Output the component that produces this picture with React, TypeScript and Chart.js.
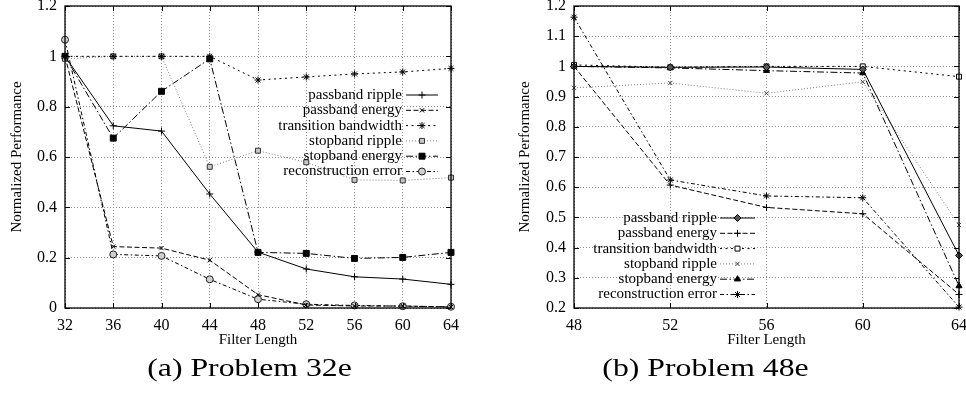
import React, { useEffect, useRef } from "react";
import { Chart, registerables } from "chart.js";
import { drawPoint } from "chart.js/helpers";

Chart.register(...registerables);

const SERIF = '"Liberation Serif", "Times New Roman", Times, serif';

const SERIES_NAMES = [
  "passband ripple",
  "passband energy",
  "transition bandwidth",
  "stopband ripple",
  "stopband energy",
  "reconstruction error",
];

// (a) Problem 32e
const A_LENGTHS = [32, 36, 40, 44, 48, 52, 56, 60, 64];
const A_PASSBAND_RIPPLE = [1.0, 0.724, 0.703, 0.453, 0.222, 0.155, 0.124, 0.115, 0.094];
const A_PASSBAND_ENERGY = [1.0, 0.244, 0.238, 0.19, 0.053, 0.012, 0.008, 0.008, 0.004];
const A_TRANSITION_BW = [1.0, 1.0, 1.0, 1.0, 0.906, 0.918, 0.93, 0.938, 0.952];
const A_STOPBAND_RIPPLE = [0.99, 1.0, 1.0, 0.561, 0.625, 0.579, 0.509, 0.507, 0.518];
const A_STOPBAND_ENERGY = [1.0, 0.675, 0.861, 0.99, 0.221, 0.217, 0.197, 0.201, 0.221];
const A_RECON_ERROR = [1.066, 0.213, 0.207, 0.114, 0.035, 0.015, 0.01, 0.007, 0.005];
const A_X_TICKS = [32, 36, 40, 44, 48, 52, 56, 60, 64];
const A_Y_TICKS = [0, 0.2, 0.4, 0.6, 0.8, 1, 1.2];

// (b) Problem 48e
const B_LENGTHS = [48, 52, 56, 60, 64];
const B_PASSBAND_RIPPLE = [1.0, 0.997, 0.998, 0.99, 0.374];
const B_PASSBAND_ENERGY = [1.0, 0.607, 0.533, 0.512, 0.245];
const B_TRANSITION_BW = [1.005, 0.997, 1.0, 1.0, 0.966];
const B_STOPBAND_RIPPLE = [0.929, 0.945, 0.911, 0.949, 0.475];
const B_STOPBAND_ENERGY = [1.0, 0.995, 0.986, 0.978, 0.273];
const B_RECON_ERROR = [1.163, 0.624, 0.571, 0.565, 0.203];
const B_X_TICKS = [48, 52, 56, 60, 64];
const B_Y_TICKS = [0.2, 0.3, 0.4, 0.5, 0.6, 0.7, 0.8, 0.9, 1, 1.1, 1.2];

const X_TITLE = "Filter Length";
const Y_TITLE = "Normalized Performance";

type Style = { color: string; dash: number[]; point: string; radius: number; fill: string; edge: string };

const DASHES = [[], [5, 2.5], [2, 3.5], [1, 2], [7, 2.5, 1.5, 2.5], [4, 2.5, 1.5, 2.5]];

const A_STYLES: Style[] = [
  { color: "#000", dash: DASHES[0], point: "cross", radius: 3.5, fill: "#000", edge: "#000" },
  { color: "#000", dash: DASHES[1], point: "crossRot", radius: 3, fill: "#000", edge: "#000" },
  { color: "#000", dash: DASHES[2], point: "star", radius: 3.5, fill: "#000", edge: "#000" },
  { color: "#808080", dash: DASHES[3], point: "rect", radius: 3.5, fill: "#c8c8c8", edge: "#333" },
  { color: "#000", dash: DASHES[4], point: "rect", radius: 4.2, fill: "#000", edge: "#000" },
  { color: "#000", dash: DASHES[5], point: "circle", radius: 3.5, fill: "#cfcfcf", edge: "#222" },
];

const B_STYLES: Style[] = [
  { color: "#000", dash: DASHES[0], point: "rectRot", radius: 3.5, fill: "#555", edge: "#000" },
  { color: "#000", dash: DASHES[1], point: "cross", radius: 3.5, fill: "#000", edge: "#000" },
  { color: "#000", dash: DASHES[2], point: "rect", radius: 3.5, fill: "#fff", edge: "#000" },
  { color: "#808080", dash: DASHES[3], point: "crossRot", radius: 3, fill: "#555", edge: "#444" },
  { color: "#000", dash: DASHES[4], point: "triangle", radius: 3.5, fill: "#000", edge: "#000" },
  { color: "#000", dash: DASHES[5], point: "star", radius: 3.5, fill: "#000", edge: "#000" },
];

interface PanelSpec {
  canvasLeft: number;
  canvasWidth: number;
  padLeft: number;
  padRight: number;
  yAxisWidth: number;
  lengths: number[];
  series: number[][];
  styles: Style[];
  xTicks: number[];
  yTicks: number[];
  caption: string;
  captionX: number;
  legend: { textRight: number; x1: number; x2: number; y0: number; dy: number };
}

const PANEL_A: PanelSpec = {
  canvasLeft: 0,
  canvasWidth: 490,
  padLeft: 0,
  padRight: 39,
  yAxisWidth: 65,
  lengths: A_LENGTHS,
  series: [A_PASSBAND_RIPPLE, A_PASSBAND_ENERGY, A_TRANSITION_BW, A_STOPBAND_RIPPLE, A_STOPBAND_ENERGY, A_RECON_ERROR],
  styles: A_STYLES,
  xTicks: A_X_TICKS,
  yTicks: A_Y_TICKS,
  caption: "(a) Problem 32e",
  captionX: 249.5,
  legend: { textRight: 402, x1: 406, x2: 438, y0: 95, dy: 15.3 },
};

const PANEL_B: PanelSpec = {
  canvasLeft: 490,
  canvasWidth: 476,
  padLeft: 18,
  padRight: 7,
  yAxisWidth: 66,
  lengths: B_LENGTHS,
  series: [B_PASSBAND_RIPPLE, B_PASSBAND_ENERGY, B_TRANSITION_BW, B_STOPBAND_RIPPLE, B_STOPBAND_ENERGY, B_RECON_ERROR],
  styles: B_STYLES,
  xTicks: B_X_TICKS,
  yTicks: B_Y_TICKS,
  caption: "(b) Problem 48e",
  captionX: 215.5,
  legend: { textRight: 227, x1: 230, x2: 265, y0: 218, dy: 15.3 },
};

const HEIGHT = 398;

function decorPlugin(spec: PanelSpec) {
  return {
    id: "gnuplotDecor",
    afterDatasetsDraw(chart: any) {
      const { ctx, chartArea: a, scales } = chart;
      ctx.save();
      ctx.strokeStyle = "#000";
      ctx.lineWidth = 1;
      ctx.setLineDash([]);
      const T = 5;
      ctx.beginPath();
      for (const v of spec.yTicks) {
        const y = Math.round(scales.y.getPixelForValue(v)) + 0.5;
        ctx.moveTo(a.left, y);
        ctx.lineTo(a.left + T, y);
        ctx.moveTo(a.right, y);
        ctx.lineTo(a.right - T, y);
      }
      for (const v of spec.xTicks) {
        const x = Math.round(scales.x.getPixelForValue(v)) + 0.5;
        ctx.moveTo(x, a.bottom);
        ctx.lineTo(x, a.bottom - T);
        ctx.moveTo(x, a.top);
        ctx.lineTo(x, a.top + T);
      }
      ctx.stroke();
      ctx.lineWidth = 1.3;
      ctx.strokeRect(a.left, a.top, a.right - a.left, a.bottom - a.top);
      ctx.restore();
    },
    afterDraw(chart: any) {
      const ctx = chart.ctx;
      const L = spec.legend;
      ctx.save();
      chart.data.datasets.forEach((ds: any, i: number) => {
        const y = L.y0 + i * L.dy;
        ctx.font = `15px ${SERIF}`;
        ctx.textAlign = "right";
        ctx.textBaseline = "middle";
        ctx.fillStyle = "#000";
        ctx.fillText(ds.label, L.textRight, y);
        ctx.strokeStyle = ds.borderColor;
        ctx.lineWidth = ds.borderWidth;
        ctx.setLineDash(ds.borderDash);
        ctx.beginPath();
        ctx.moveTo(L.x1, y);
        ctx.lineTo(L.x2, y);
        ctx.stroke();
        ctx.setLineDash([]);
        ctx.fillStyle = ds.pointBackgroundColor;
        ctx.strokeStyle = ds.pointBorderColor;
        ctx.lineWidth = 1;
        drawPoint(ctx, { pointStyle: ds.pointStyle, radius: ds.pointRadius, rotation: 0, borderWidth: 1 } as any, (L.x1 + L.x2) / 2, y);
      });
      ctx.font = `25px ${SERIF}`;
      ctx.textAlign = "center";
      ctx.textBaseline = "alphabetic";
      ctx.fillStyle = "#000";
      ctx.translate(spec.captionX, 376);
      ctx.scale(1.27, 1);
      ctx.fillText(spec.caption, 0, 0);
      ctx.restore();
    },
  };
}

const fmt = (v: number) => String(Number(Number(v).toFixed(2)));

function buildChart(canvas: HTMLCanvasElement, spec: PanelSpec) {
  const datasets = spec.series.map((vals, i) => {
    const s = spec.styles[i];
    return {
      label: SERIES_NAMES[i],
      data: spec.lengths.map((x, j) => ({ x, y: vals[j] })),
      borderColor: s.color,
      borderWidth: 1,
      borderDash: s.dash,
      pointStyle: s.point,
      pointRadius: s.radius,
      pointBorderColor: s.edge,
      pointBackgroundColor: s.fill,
      pointBorderWidth: 1,
      tension: 0,
      fill: false,
      clip: false,
    };
  });
  const grid = { color: "#8f8f8f", lineWidth: 1, drawTicks: false, borderDash: [1, 2] };
  const border = { display: false, dash: [1, 2] };
  return new Chart(canvas, {
    type: "line",
    data: { datasets } as any,
    plugins: [decorPlugin(spec)],
    options: {
      responsive: false,
      animation: false,
      events: [],
      layout: { padding: { left: spec.padLeft, right: spec.padRight, top: 6, bottom: 45 } },
      plugins: { legend: { display: false }, tooltip: { enabled: false }, title: { display: false } },
      scales: {
        x: {
          type: "linear",
          min: spec.xTicks[0],
          max: spec.xTicks[spec.xTicks.length - 1],
          afterBuildTicks: (s: any) => {
            s.ticks = spec.xTicks.map((v) => ({ value: v }));
          },
          ticks: {
            color: "#000",
            font: { family: SERIF, size: 16 },
            padding: 8,
            maxRotation: 0,
            autoSkip: false,
            callback: (v: any) => fmt(v),
          },
          grid,
          border,
          title: {
            display: true,
            text: X_TITLE,
            color: "#000",
            font: { family: SERIF, size: 15 },
            padding: { top: 0, bottom: 4 },
          },
          afterFit: (s: any) => {
            s.height = 45;
            s.paddingLeft = 0;
            s.paddingRight = 0;
          },
        },
        y: {
          type: "linear",
          min: spec.yTicks[0],
          max: spec.yTicks[spec.yTicks.length - 1],
          afterBuildTicks: (s: any) => {
            s.ticks = spec.yTicks.map((v) => ({ value: v }));
          },
          ticks: {
            color: "#000",
            font: { family: SERIF, size: 16 },
            padding: 8,
            autoSkip: false,
            callback: (v: any) => fmt(v),
          },
          grid,
          border,
          title: {
            display: true,
            text: Y_TITLE,
            color: "#000",
            font: { family: SERIF, size: 15 },
            padding: { top: 8, bottom: 0 },
          },
          afterFit: (s: any) => {
            s.width = spec.yAxisWidth;
            s.paddingTop = 0;
            s.paddingBottom = 0;
          },
        },
      },
    } as any,
  });
}

function Panel({ spec }: { spec: PanelSpec }) {
  const ref = useRef<HTMLCanvasElement>(null);
  useEffect(() => {
    const chart = buildChart(ref.current as HTMLCanvasElement, spec);
    return () => chart.destroy();
  }, [spec]);
  return (
    <canvas
      ref={ref}
      width={spec.canvasWidth}
      height={HEIGHT}
      style={{ position: "absolute", left: spec.canvasLeft, top: 0, width: spec.canvasWidth, height: HEIGHT }}
    />
  );
}

export default function App() {
  return (
    <div style={{ position: "absolute", left: 0, top: 0, width: 966, height: HEIGHT, background: "#fff" }}>
      <Panel spec={PANEL_A} />
      <Panel spec={PANEL_B} />
    </div>
  );
}
